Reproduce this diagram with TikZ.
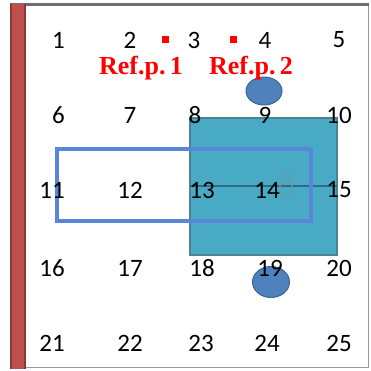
\documentclass[tikz,border=0pt]{standalone}
\usepackage{fontspec}
\setmainfont{Carlito}
\newfontfamily\reffont{Liberation Serif}
\usepackage{tikz}
\usetikzlibrary{shapes.geometric}

\definecolor{frame}{HTML}{6E6E6E}
\definecolor{redbar}{HTML}{C0504D}
\definecolor{redbardark}{HTML}{8C3836}
\definecolor{aqua}{HTML}{48AAC4}
\definecolor{aquadark}{HTML}{2A6E80}
\definecolor{cornflower}{HTML}{5A86DA}
\definecolor{ballblue}{HTML}{4F81BD}
\definecolor{balledge}{HTML}{3A6496}

\begin{document}
\begin{tikzpicture}[x=1pt,y=-1pt,
    num/.style={font=\fontsize{25}{29}\selectfont, inner sep=0pt},
    reflabel/.style={font=\reffont\bfseries\fontsize{26}{30}\selectfont,
        text=red, inner sep=0pt},
    refmark/.style={fill=red, minimum size=7pt, inner sep=0pt},
    ball/.style={ellipse, fill=ballblue, draw=balledge, line width=1pt,
        inner sep=0pt}]
    \useasboundingbox (0,0) rectangle (371,371);
    % frame
    \draw[frame!70, line width=1pt] (25,367) -- (368,367) -- (368,5);
    \draw[frame, line width=3pt] (10,5) -- (369,5);
    \fill[redbardark] (10,4) rectangle (26,369);
    \fill[redbar] (12,4) rectangle (24,369);
    % shapes
    \filldraw[fill=aqua, draw=aquadark!85, line width=2pt]
        (190,118) rectangle (337,255);
    \coordinate (l) at (190,186);
    \coordinate (r) at (337,186);
    \draw[aquadark, line width=2.5pt] (l) -- (r);
    \draw[aquadark!70, line width=1.2pt, rounded corners=2pt]
        (281,175) rectangle (291,184) (280,184) rectangle (292,195);
    \draw[cornflower, line width=4.5pt] (57,149) rectangle (311,221);
    \node[ball, minimum width=36pt, minimum height=28pt] (b1) at (264,91) {};
    \node[ball, minimum width=37pt, minimum height=31pt] (b2) at (271,282) {};
    % numbers
    \node[num, anchor=east] (n1) at (65,40) {1};
    \node[num] (n2) at (130,40) {2};
    \node[num] (n3) at (194,40) {3};
    \node[num] (n4) at (265,40) {4};
    \node[num] (n5) at (339,40) {5};
    \node[num, anchor=east] (n6) at (65,115) {6};
    \node[num] (n7) at (130,115) {7};
    \node[num] (n8) at (195,115) {8};
    \node[num] (n9) at (265,115) {9};
    \node[num] (n10) at (339,115) {10};
    \node[num, anchor=east] (n11) at (65,190) {11};
    \node[num] (n12) at (130,190) {12};
    \node[num] (n13) at (202,190) {13};
    \node[num] (n14) at (267,190) {14};
    \node[num] (n15) at (339,190) {15};
    \node[num, anchor=east] (n16) at (65,268) {16};
    \node[num] (n17) at (130,268) {17};
    \node[num] (n18) at (202,268) {18};
    \node[num] (n19) at (270,268) {19};
    \node[num] (n20) at (339,268) {20};
    \node[num, anchor=east] (n21) at (65,343) {21};
    \node[num] (n22) at (130,343) {22};
    \node[num] (n23) at (201,343) {23};
    \node[num] (n24) at (267,343) {24};
    \node[num] (n25) at (339,343) {25};
    % reference points
    \node[refmark] (m1) at (165,40) {};
    \node[refmark] (m2) at (233,40) {};
    \node[reflabel] (r1) at (141,68) {Ref.p.\,1};
    \node[reflabel] (r2) at (251,68) {Ref.p.\,2};
\end{tikzpicture}
\end{document}
